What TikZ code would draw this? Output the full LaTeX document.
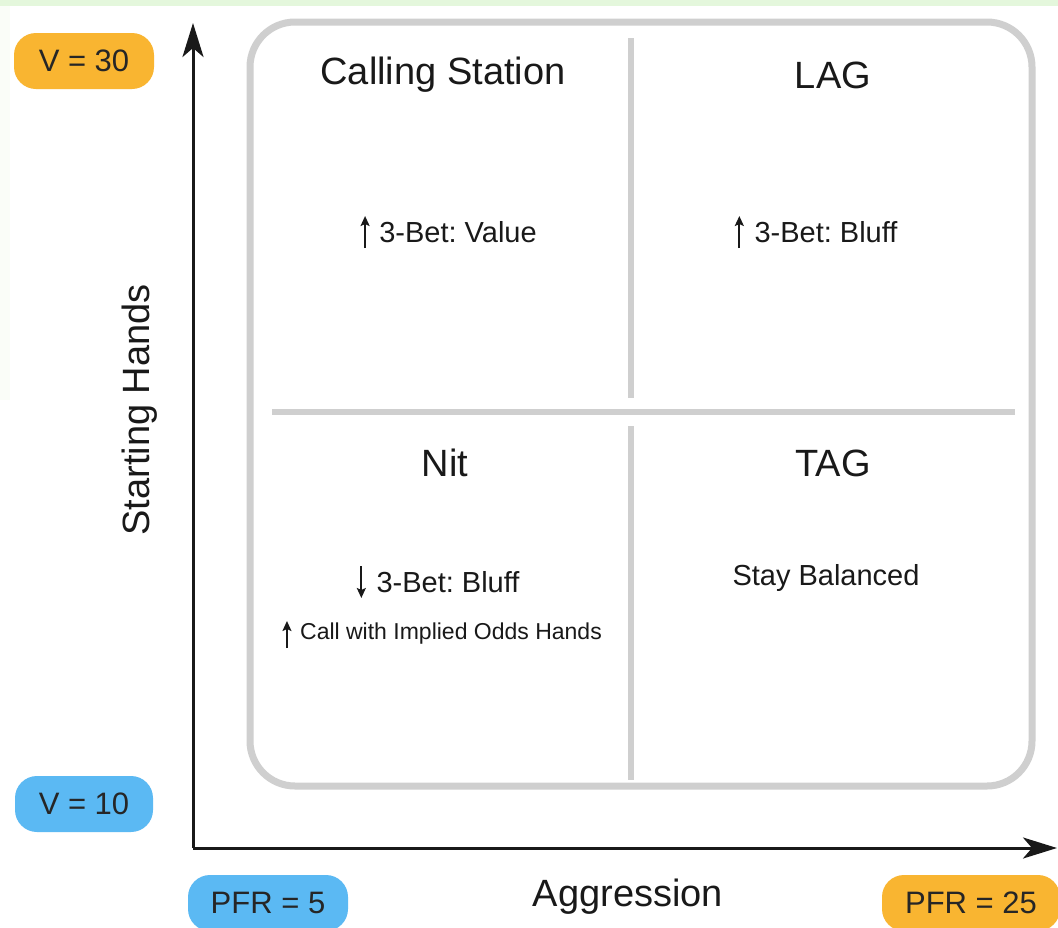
\documentclass[tikz,border=0pt]{standalone}
\usepackage{fontspec}
\setmainfont{Liberation Sans}
\frenchspacing
\usetikzlibrary{arrows.meta}
\definecolor{badgeorange}{HTML}{F9B531}
\definecolor{badgeblue}{HTML}{5BB9F3}
\definecolor{framegray}{HTML}{CFCFCF}
\definecolor{bggreen}{HTML}{E4F7DC}
\definecolor{bgfaint}{HTML}{FAFDF8}
\tikzset{
  badge/.style={rounded corners=22pt, minimum height=56pt, inner sep=0pt, text=black!85, font=\fontsize{31}{36}\selectfont},
  orangebadge/.style={badge, fill=badgeorange},
  bluebadge/.style={badge, fill=badgeblue},
  title/.style={font=\fontsize{38}{44}\selectfont, text=black!90},
  body/.style={inner sep=0pt, font=\fontsize{29}{34}\selectfont, text=black!90},
  small/.style={inner sep=0pt, font=\fontsize{23}{28}\selectfont, text=black!90},
  axislabel/.style={font=\fontsize{38}{44}\selectfont, text=black!90},
  axis/.style={line width=3pt, draw=black!90, -{Stealth[length=34pt,width=21pt,inset=9pt]}},
  divider/.style={line width=6pt, draw=framegray},
  hint/.style={line width=2pt, draw=black!90, -{Stealth[length=10pt,width=9pt,inset=2pt]}},
}
\begin{document}
\begin{tikzpicture}[x=1pt,y=-1pt]
\useasboundingbox (0,0) rectangle (1058,927);
% background
\fill[bgfaint] (0,0) rectangle (10,400);
\fill[bggreen] (0,0) rectangle (1058,6);
\fill[white] (10,6) rectangle (1058,927);
% frame
\draw[line width=7pt, draw=framegray, rounded corners=45pt] (250,22) rectangle (1032,786);
\draw[divider] (631,38) -- (631,398);
\draw[divider] (631,426) -- (631,780);
\draw[divider] (272,412) -- (1015,412);
% axes
\coordinate (origin) at (193,848);
\coordinate (ytip) at (193,23);
\coordinate (xtip) at (1057,848);
\draw[axis] (origin) -- (ytip);
\draw[axis] (origin) -- (xtip);
% quadrant texts
\node[title] (cs) at (443,75) {Calling Station};
\node[title] (lag) at (833,75) {LAG};
\node[title] (nit) at (445,463) {Nit};
\node[title] (tag) at (833,463) {TAG};
\node[body] (csv) at (458,232) {3-Bet: Value};
\node[body] (lagb) at (826,232) {3-Bet: Bluff};
\node[body] (nitb) at (448,582) {3-Bet: Bluff};
\node[small] (nitc) at (451,634) {Call with Implied Odds Hands};
\node[body] (tagb) at (826,578) {Stay Balanced};
% hint arrows
\draw[hint] ([xshift=-14pt,yshift=-16pt]csv.west) -- ([xshift=-14pt,yshift=16pt]csv.west);
\draw[hint] ([xshift=-15pt,yshift=-16pt]lagb.west) -- ([xshift=-15pt,yshift=16pt]lagb.west);
\draw[hint] ([xshift=-15pt,yshift=16pt]nitb.west) -- ([xshift=-15pt,yshift=-16pt]nitb.west);
\draw[hint, line width=1.6pt] ([xshift=-13pt,yshift=-14pt]nitc.west) -- ([xshift=-13pt,yshift=13pt]nitc.west);
% axis labels
\node[axislabel, rotate=90] (ylab) at (140,410) {Starting Hands};
\node[axislabel] (xlab) at (628,897) {Aggression};
% badges
\node[orangebadge, minimum width=140pt] (v30) at (84,61) {V = 30};
\node[bluebadge, minimum width=138pt] (v10) at (84,804) {V = 10};
\node[bluebadge, minimum width=160pt] (pfr5) at (268,903) {PFR = 5};
\node[orangebadge, minimum width=178pt] (pfr25) at (971,903) {PFR = 25};
\end{tikzpicture}
\end{document}
